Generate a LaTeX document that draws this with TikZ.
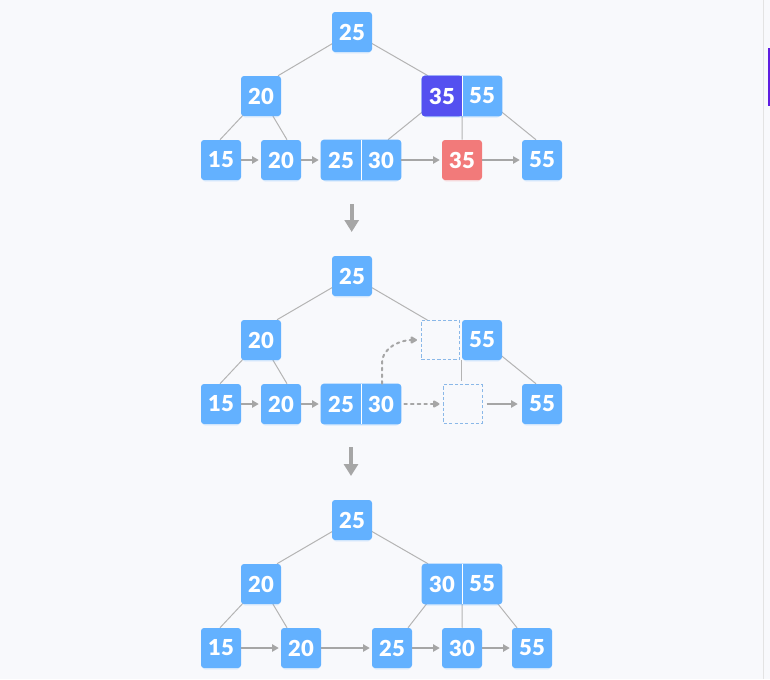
\documentclass[tikz,border=0pt]{standalone}
\usepackage{fontspec}
\setmainfont{Lato}[BoldFont={Lato Black}]
\usetikzlibrary{arrows.meta,calc,backgrounds,shadows}
\definecolor{boxblue}{RGB}{99,177,255}
\definecolor{boxpurple}{RGB}{84,80,240}
\definecolor{boxred}{RGB}{242,122,122}
\definecolor{pagebg}{RGB}{248,249,252}
\definecolor{edgegrey}{RGB}{180,180,180}
\definecolor{arrowgrey}{RGB}{166,166,166}
\definecolor{dashblue}{RGB}{138,184,232}
\definecolor{sidebar}{RGB}{95,30,225}
\begin{document}
\begin{tikzpicture}[x=0.75pt,y=-0.75pt,
  boxshadow/.style={general shadow={fill=boxblue, opacity=0.15, shadow yshift=-2.2pt, shadow scale=0.94}},
  cell/.style={rectangle, minimum width=30pt, minimum height=30pt, inner sep=0pt, text=white,
    font=\fontsize{16.5}{19}\selectfont\bfseries},
  bluecell/.style={cell, fill=boxblue, rounded corners=2.25pt, boxshadow},
  redcell/.style={cell, fill=boxred, rounded corners=2.25pt,
    general shadow={fill=boxred, opacity=0.15, shadow yshift=-2.2pt, shadow scale=0.94}},
  dashbox/.style={rectangle, minimum width=28.7pt, minimum height=29.2pt, inner sep=0pt,
    draw=dashblue, line width=0.6pt, dash pattern=on 2.4pt off 1.6pt},
  edge/.style={draw=edgegrey, line width=0.75pt},
  link/.style={draw=arrowgrey, line width=1.1pt, -{Triangle[length=5pt,width=5.5pt]}, shorten >=1.5pt},
  dotlink/.style={draw=arrowgrey, line width=1.5pt, dash pattern=on 2pt off 3pt, line cap=round,
    -{Triangle[length=5.5pt,width=6pt,round=false]}},
  bigarrow/.style={draw=arrowgrey, line width=3pt, -{Triangle[length=9pt,width=10.5pt]}}
]
\useasboundingbox (0,0) rectangle (770,679);

% ---------- top tree ----------
\node[bluecell] (t25) at (352,32) {25};
\node[bluecell] (t20) at (261,96) {20};
\node[cell] (t35) at (442,96) {35};
\node[cell] (t55) at (482,96) {55};
\node[bluecell] (t15) at (221,160) {15};
\node[bluecell] (tl20) at (281,160) {20};
\node[cell] (t25b) at (341,160) {25};
\node[cell] (t30) at (381,160) {30};
\node[redcell] (t35r) at (462,160) {35};
\node[bluecell] (t55b) at (542,160) {55};

\draw[link] (t15.east) -- (tl20.west);
\draw[link] (tl20.east) -- (t25b.west);
\draw[link] (t30.east) -- (t35r.west);
\draw[link] (t35r.east) -- (t55b.west);

% ---------- middle tree ----------
\node[bluecell] (m25) at (352,276) {25};
\node[bluecell] (m20) at (261,340) {20};
\node[dashbox] (md1) at (440.5,340) {};
\node[bluecell] (m55) at (482,340) {55};
\node[bluecell] (m15) at (221,404) {15};
\node[bluecell] (ml20) at (281,404) {20};
\node[cell] (m25b) at (341,404) {25};
\node[cell] (m30) at (381,404) {30};
\node[dashbox] (md2) at (463,404) {};
\node[bluecell] (m55b) at (542,404) {55};

\draw[link] (m15.east) -- (ml20.west);
\draw[link] (ml20.east) -- (m25b.west);
\draw[dotlink] ($(m30.east)+(3,0)$) -- ($(md2.west)+(-4,0)$);
\draw[link, shorten <=3pt, shorten >=3pt] (md2.east) -- (m55b.west);
\draw[dotlink] ($(m30.north)+(1,0)$) -- ++(0,-20) .. controls +(0,-18) and +(-14,0) .. ($(md1.west)+(-4,0)$);

% ---------- bottom tree ----------
\node[bluecell] (b25) at (352,520) {25};
\node[bluecell] (b20) at (261,584) {20};
\node[cell] (b30) at (442,584) {30};
\node[cell] (b55) at (482,584) {55};
\node[bluecell] (b15) at (221,648) {15};
\node[bluecell] (bl20) at (301,648) {20};
\node[bluecell] (b25b) at (392,648) {25};
\node[bluecell] (b30b) at (462,648) {30};
\node[bluecell] (b55b) at (532,648) {55};

\draw[link] (b15.east) -- (bl20.west);
\draw[link] (bl20.east) -- (b25b.west);
\draw[link] (b25b.east) -- (b30b.west);
\draw[link] (b30b.east) -- (b55b.west);

% ---------- step arrows ----------
\coordinate (d1s) at (351.7,204);
\coordinate (d1e) at (351.7,232);
\coordinate (d2s) at (351,447);
\coordinate (d2e) at (351,476);
\draw[bigarrow] (d1s) -- (d1e);
\draw[bigarrow] (d2s) -- (d2e);

\begin{scope}[on background layer]
  \fill[pagebg] (0,0) rectangle (770,679);
  \draw[gray!22, line width=0.75pt] (763.5,0) -- (763.5,679);
  \fill[sidebar] (767.5,47.5) rectangle (770,106);

  % top edges
  \draw[edge] (t25.center) -- ($(t20.north)+(17,0)$);
  \draw[edge] (t25.center) -- ($(t35.north)+(-14,0)$);
  \draw[edge] (t20.center) -- ($(t15.north)+(-1,0)$);
  \draw[edge] (t20.center) -- ($(tl20.north)+(6,0)$);
  \draw[edge] (t35.center) -- ($(t30.north)+(7,0)$);
  \draw[edge] (t35.east) -- (t35r.north);
  \draw[edge] (t55.center) -- ($(t55b.north)+(-6,0)$);
  % middle edges
  \draw[edge] (m25.center) -- ($(m20.north)+(16,0)$);
  \draw[edge] (m25.center) -- ($(md1.north)+(-13,0)$);
  \draw[edge] (m20.center) -- ($(m15.north)+(-1,0)$);
  \draw[edge] (m20.center) -- ($(ml20.north)+(6,0)$);
  \draw[edge] (m55.south west) -- ($(m55.south west |- md2.north)+(0,-3)$);
  \draw[edge] (m55.center) -- ($(m55b.north)+(-6,0)$);
  % bottom edges
  \draw[edge] (b25.center) -- ($(b20.north)+(16,0)$);
  \draw[edge] (b25.center) -- ($(b30.north)+(-14,0)$);
  \draw[edge] (b20.center) -- ($(b15.north)+(-1,0)$);
  \draw[edge] (b20.center) -- ($(bl20.north)+(-14,0)$);
  \draw[edge] (b30.center) -- ($(b25b.north)+(16,0)$);
  \draw[edge] (b30.east) -- (b30b.north);
  \draw[edge] (b55.center) -- ($(b55b.north)+(-15,0)$);

  % double cells
  \fill[boxblue, rounded corners=2.25pt, boxshadow] (t35.north west) rectangle (t55.south east);
  \fill[boxpurple, rounded corners=2.25pt] (t35.north west) rectangle (t35.south east);
  \fill[boxpurple] (t35.north) rectangle (t35.south east);
  \draw[white, line width=0.75pt] (t35.north east) -- (t35.south east);

  \fill[boxblue, rounded corners=2.25pt, boxshadow] (t25b.north west) rectangle (t30.south east);
  \draw[white, line width=0.75pt] (t25b.north east) -- (t25b.south east);

  \fill[boxblue, rounded corners=2.25pt, boxshadow] (m25b.north west) rectangle (m30.south east);
  \draw[white, line width=0.75pt] (m25b.north east) -- (m25b.south east);

  \fill[boxblue, rounded corners=2.25pt, boxshadow] (b30.north west) rectangle (b55.south east);
  \draw[white, line width=0.75pt] (b30.north east) -- (b30.south east);
\end{scope}
\end{tikzpicture}
\end{document}
